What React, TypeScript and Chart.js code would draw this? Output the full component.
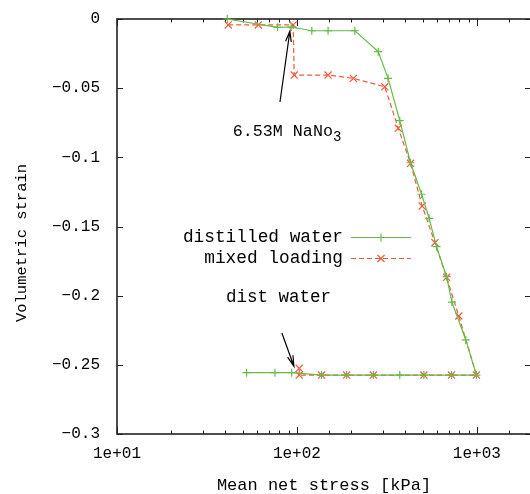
import React, { useEffect, useRef } from 'react';
import { Chart, registerables } from 'chart.js';

Chart.register(...registerables);

// ---------- data ----------
const distilledStress = [41, 78, 93, 121, 149, 210, 283, 321, 373, 428, 493, 543, 597, 679, 727, 868, 995, 723, 508, 373, 266, 189, 137, 93.5, 75.5, 52.5];
const distilledStrain = [0, -0.006, -0.0058, -0.0085, -0.0085, -0.0085, -0.0236, -0.0429, -0.0735, -0.1039, -0.1267, -0.1441, -0.1646, -0.1863, -0.2046, -0.232, -0.2574, -0.2574, -0.2574, -0.2574, -0.2574, -0.2574, -0.2574, -0.2557, -0.2557, -0.2557];

const mixedStress = [41.5, 61, 95.3, 96.6, 149, 206, 308, 366, 428, 497, 585, 679, 794, 995, 723, 508, 266, 189, 137, 103, 103];
const mixedStrain = [-0.0043, -0.0043, -0.0043, -0.0405, -0.0405, -0.0429, -0.049, -0.079, -0.1043, -0.1352, -0.1617, -0.1867, -0.2147, -0.2574, -0.2574, -0.2574, -0.2574, -0.2574, -0.2574, -0.2574, -0.2525];

const seriesNames = ['distilled water', 'mixed loading'];
const xTickValues = [10, 100, 1000];
const xTickLabels = ['1e+01', '1e+02', '1e+03'];
const yTickValues = [0, -0.05, -0.1, -0.15, -0.2, -0.25, -0.3];
const yTickLabels = ['0', '−0.05', '−0.1', '−0.15', '−0.2', '−0.25', '−0.3'];

const xTitle = 'Mean net stress [kPa]';
const yTitle = 'Volumetric strain';

// annotations (data space)
const noteNaNo3 = { text: '6.53M NaNo', sub: '3', x: 44, y: -0.0846 };
const arrowNaNo3 = { fromX: 80.5, fromY: -0.06, toX: 91.4, toY: -0.0087 };
const noteDist = { text: 'dist water', x: 40.3, y: -0.201 };
const arrowDist = { fromX: 82.5, fromY: -0.227, toX: 96.2, toY: -0.251 };

const GREEN = '#64bc46';
const RED = '#ef5a3c';
const FONT = '"Liberation Mono", "DejaVu Sans Mono", monospace';

function nearestLabel(v: number, vals: number[], labels: string[]) {
  for (let i = 0; i < vals.length; i++) {
    if (Math.abs(vals[i] - v) < 1e-6 * Math.max(1, Math.abs(vals[i]))) return labels[i];
  }
  return '';
}

const decorPlugin = {
  id: 'decor',
  beforeDatasetsDraw(chart: any) {
    const { ctx, chartArea } = chart;
    const { left, right, top, bottom } = chartArea;
    const xs = chart.scales.x;
    const ys = chart.scales.y;
    ctx.save();
    ctx.strokeStyle = '#222';
    ctx.lineWidth = 1;
    ctx.beginPath();
    xs.ticks.forEach((t: any) => {
      const px = Math.round(xs.getPixelForValue(t.value)) + 0.5;
      if (px < left - 1 || px > right + 1) return;
      const major = xTickValues.some((v) => Math.abs(v - t.value) < 1e-6 * v);
      const len = major ? 7 : 3.5;
      ctx.moveTo(px, bottom);
      ctx.lineTo(px, bottom - len);
      ctx.moveTo(px, top);
      ctx.lineTo(px, top + len);
    });
    ys.ticks.forEach((t: any) => {
      const py = Math.round(ys.getPixelForValue(t.value)) + 0.5;
      ctx.moveTo(left, py);
      ctx.lineTo(left + 6, py);
      ctx.moveTo(right, py);
      ctx.lineTo(right - 6, py);
    });
    ctx.stroke();
    ctx.lineWidth = 1.6;
    ctx.strokeRect(left, top, right - left, bottom - top);
    ctx.restore();
  },
  afterDraw(chart: any) {
    const { ctx } = chart;
    const xs = chart.scales.x;
    const ys = chart.scales.y;
    ctx.save();
    ctx.fillStyle = '#000';

    // y title
    ctx.save();
    ctx.font = `15.5px ${FONT}`;
    ctx.translate(22, 243);
    ctx.rotate(-Math.PI / 2);
    ctx.textAlign = 'center';
    ctx.textBaseline = 'middle';
    ctx.fillText(yTitle, 0, 0);
    ctx.restore();

    // legend
    const legendRight = 343;
    const rows = [237, 258];
    ctx.font = `17.8px ${FONT}`;
    chart.data.datasets.forEach((ds: any, i: number) => {
      const yy = rows[i];
      ctx.textAlign = 'right';
      ctx.textBaseline = 'middle';
      ctx.fillStyle = '#000';
      ctx.fillText(seriesNames[i], legendRight, yy);
      ctx.save();
      ctx.strokeStyle = ds.borderColor;
      ctx.lineWidth = ds.borderWidth;
      ctx.setLineDash(ds.borderDash || []);
      ctx.beginPath();
      ctx.moveTo(351, yy + 0.5);
      ctx.lineTo(411, yy + 0.5);
      ctx.stroke();
      ctx.setLineDash([]);
      ctx.lineWidth = ds.pointBorderWidth;
      ctx.beginPath();
      const cx = 381, cy = yy + 0.5;
      if (ds.pointStyle === 'cross') {
        const r = ds.pointRadius;
        ctx.moveTo(cx - r, cy); ctx.lineTo(cx + r, cy);
        ctx.moveTo(cx, cy - r); ctx.lineTo(cx, cy + r);
      } else {
        const r = ds.pointRadius * Math.SQRT1_2;
        ctx.moveTo(cx - r, cy - r); ctx.lineTo(cx + r, cy + r);
        ctx.moveTo(cx - r, cy + r); ctx.lineTo(cx + r, cy - r);
      }
      ctx.stroke();
      ctx.restore();
    });

    // annotations
    const arrow = (a: any) => {
      const x1 = xs.getPixelForValue(a.fromX), y1 = ys.getPixelForValue(a.fromY);
      const x2 = xs.getPixelForValue(a.toX), y2 = ys.getPixelForValue(a.toY);
      const ang = Math.atan2(y2 - y1, x2 - x1);
      ctx.save();
      ctx.strokeStyle = '#000';
      ctx.lineWidth = 1.2;
      ctx.beginPath();
      ctx.moveTo(x1, y1);
      ctx.lineTo(x2, y2);
      const hl = 11, ha = 0.26;
      ctx.moveTo(x2 - hl * Math.cos(ang - ha), y2 - hl * Math.sin(ang - ha));
      ctx.lineTo(x2, y2);
      ctx.lineTo(x2 - hl * Math.cos(ang + ha), y2 - hl * Math.sin(ang + ha));
      ctx.stroke();
      ctx.restore();
    };
    arrow(arrowNaNo3);
    arrow(arrowDist);

    ctx.textAlign = 'left';
    ctx.textBaseline = 'alphabetic';
    ctx.font = `16.7px ${FONT}`;
    const nx = xs.getPixelForValue(noteNaNo3.x), ny = ys.getPixelForValue(noteNaNo3.y);
    ctx.fillText(noteNaNo3.text, nx, ny);
    const w = ctx.measureText(noteNaNo3.text).width;
    ctx.font = `14px ${FONT}`;
    ctx.fillText(noteNaNo3.sub, nx + w, ny + 5);
    ctx.font = `17.5px ${FONT}`;
    ctx.textBaseline = 'middle';
    ctx.fillText(noteDist.text, xs.getPixelForValue(noteDist.x), ys.getPixelForValue(noteDist.y));
    ctx.restore();
  },
};

export default function App() {
  const ref = useRef<HTMLCanvasElement>(null);
  useEffect(() => {
    const canvas = ref.current;
    if (!canvas) return;
    const chart = new Chart(canvas, {
      type: 'scatter',
      data: {
        datasets: [
          {
            label: seriesNames[0],
            data: distilledStress.map((x, i) => ({ x, y: distilledStrain[i] })),
            showLine: true,
            borderColor: GREEN,
            backgroundColor: GREEN,
            borderWidth: 1.2,
            pointStyle: 'cross',
            pointRadius: 4,
            pointBorderWidth: 1.2,
            pointBorderColor: GREEN,
            clip: false,
          } as any,
          {
            label: seriesNames[1],
            data: mixedStress.map((x, i) => ({ x, y: mixedStrain[i] })),
            showLine: true,
            borderColor: RED,
            backgroundColor: RED,
            borderWidth: 1.2,
            borderDash: [5, 3],
            pointStyle: 'crossRot',
            pointRadius: 5,
            pointBorderWidth: 1.2,
            pointBorderColor: RED,
            clip: false,
          } as any,
        ],
      },
      options: {
        animation: false,
        responsive: false,
        devicePixelRatio: 1,
        layout: { padding: { left: 0, top: 19, right: 9, bottom: 0 } },
        plugins: { legend: { display: false }, tooltip: { enabled: false } },
        scales: {
          x: {
            type: 'logarithmic',
            min: 10,
            max: 2000,
            afterFit: (s: any) => { s.height = 60; s.paddingLeft = 0; s.paddingRight = 0; },
            grid: { display: false, drawTicks: false },
            border: { display: false },
            ticks: {
              autoSkip: false,
              maxRotation: 0,
              padding: 10,
              color: '#000',
              font: { family: FONT, size: 16 },
              callback: (v: any) => nearestLabel(Number(v), xTickValues, xTickLabels),
            },
            title: {
              display: true,
              text: xTitle,
              color: '#000',
              font: { family: FONT, size: 17 },
              padding: { top: 0, bottom: -2 },
            },
          },
          y: {
            type: 'linear',
            min: -0.3,
            max: 0,
            afterFit: (s: any) => { s.width = 117; s.paddingTop = 0; s.paddingBottom = 0; },
            grid: { display: false, drawTicks: false },
            border: { display: false },
            ticks: {
              stepSize: 0.05,
              padding: 17,
              color: '#000',
              font: { family: FONT, size: 16 },
              callback: (v: any) => nearestLabel(Number(v), yTickValues, yTickLabels),
            },
          },
        },
      },
      plugins: [decorPlugin],
    });
    return () => chart.destroy();
  }, []);

  return (
    <div style={{ position: 'fixed', left: 0, top: 0, width: 530, height: 494, overflow: 'hidden', background: '#fff' }}>
      <canvas ref={ref} width={540} height={494} style={{ width: 540, height: 494, display: 'block' }} />
    </div>
  );
}
